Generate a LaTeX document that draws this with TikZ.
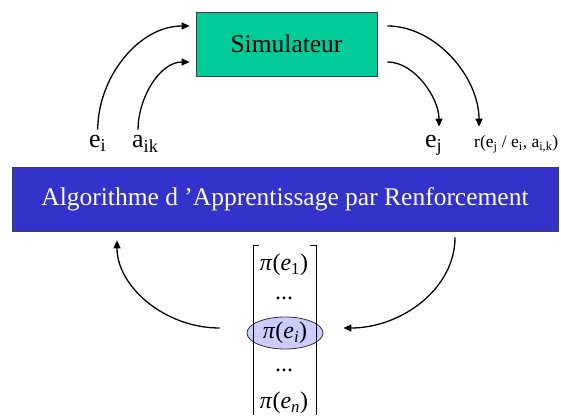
\documentclass[tikz,border=0pt]{standalone}
\usepackage{fontspec}
\setmainfont{Liberation Serif}
\usepackage{xcolor}
\usepackage{tikz}
\usetikzlibrary{positioning, arrows.meta, shapes.geometric}

\definecolor{simgreen}{HTML}{00CC99}
\definecolor{algoblue}{HTML}{3333CC}
\definecolor{pilav}{HTML}{CCCCFF}

\begin{document}
\begin{tikzpicture}[
    x=1pt, y=1pt,
    box/.style   = {rectangle, draw=black!75, line width=0.8pt, inner sep=0pt,
                    font=\fontsize{25.5}{30}\selectfont},
    sim/.style   = {box, fill=simgreen, minimum width=181pt, minimum height=64pt},
    algo/.style  = {box, fill=algoblue, text=white, minimum width=546pt, minimum height=64pt},
    lbl/.style   = {inner sep=0pt, anchor=base west, font=\fontsize{26}{30}\selectfont},
    rlbl/.style  = {lbl, font=\fontsize{17.5}{21}\selectfont},
    entry/.style = {inner sep=0pt, font=\fontsize{24}{28}\selectfont},
    sel/.style   = {entry, ellipse, draw=black!80, line width=0.8pt, fill=pilav,
                    minimum width=76pt, minimum height=32pt},
    arr/.style   = {-{Triangle[length=8pt, width=7pt]}, line width=1.3pt}
]
\useasboundingbox (0,0) rectangle (561,415);

% Boxes
\node[sim]  (sim)  at (286.5,371) {Simulateur};
\node[algo] (algo) at (285,216)   {Algorithme d 'Apprentissage par Renforcement};

% Labels above the algorithm box
\node[lbl]  (ei)  at (89,267)  {e\textsubscript{i}};
\node[lbl]  (ai)  at (132,267) {a\textsubscript{ik}};
\node[lbl]  (ej)  at (425,267) {e\textsubscript{j}};
\node[rlbl] (rew) at (474,267) {r(e\textsubscript{j} / e\textsubscript{i}, a\textsubscript{i,k})};

% Policy vector
\node[entry] (p1)  at (284,150) {\textit{π}(\textit{e}\textsubscript{1})};
\node[entry] (d1)  at (284,117) {...};
\node[sel]   (pei) at (285,82)  {\textit{π}(\textit{e}\textsubscript{\textit{i}})};
\node[entry] (d2)  at (284,45)  {...};
\node[entry] (pn)  at (284,12)  {\textit{π}(\textit{e}\textsubscript{\textit{n}})};
\draw[line width=0.7pt] (259,170) -- (253,170) -- (253,0);
\draw[line width=0.7pt] (310,170) -- (316,170) -- (316,0);

% Arrows algorithm -> simulator
\draw[arr, shorten <=6pt, shorten >=6pt] (ei.north) to[out=90, in=180] ([yshift=18pt]sim.west);
\draw[arr, shorten <=6pt, shorten >=6pt] ([xshift=6pt]ai.north west) to[out=90, in=180] ([yshift=-18pt]sim.west);

% Arrows simulator -> algorithm
\draw[arr, shorten <=10pt, shorten >=9pt] ([yshift=18pt]sim.east) to[out=0, in=90] ([xshift=5pt]rew.north west);
\draw[arr, shorten <=10pt, shorten >=9pt] ([yshift=-18pt]sim.east) to[out=0, in=90] ([xshift=14pt]ej.north west);

% Policy loop
\draw[arr, shorten >=9pt] ([xshift=-27pt, yshift=5pt]pei.west) to[out=180, in=-90] ([xshift=-168pt]algo.south);
\draw[arr, shorten <=6pt] ([xshift=170pt]algo.south) to[out=-90, in=0] ([xshift=20pt, yshift=5pt]pei.east);
\end{tikzpicture}
\end{document}
